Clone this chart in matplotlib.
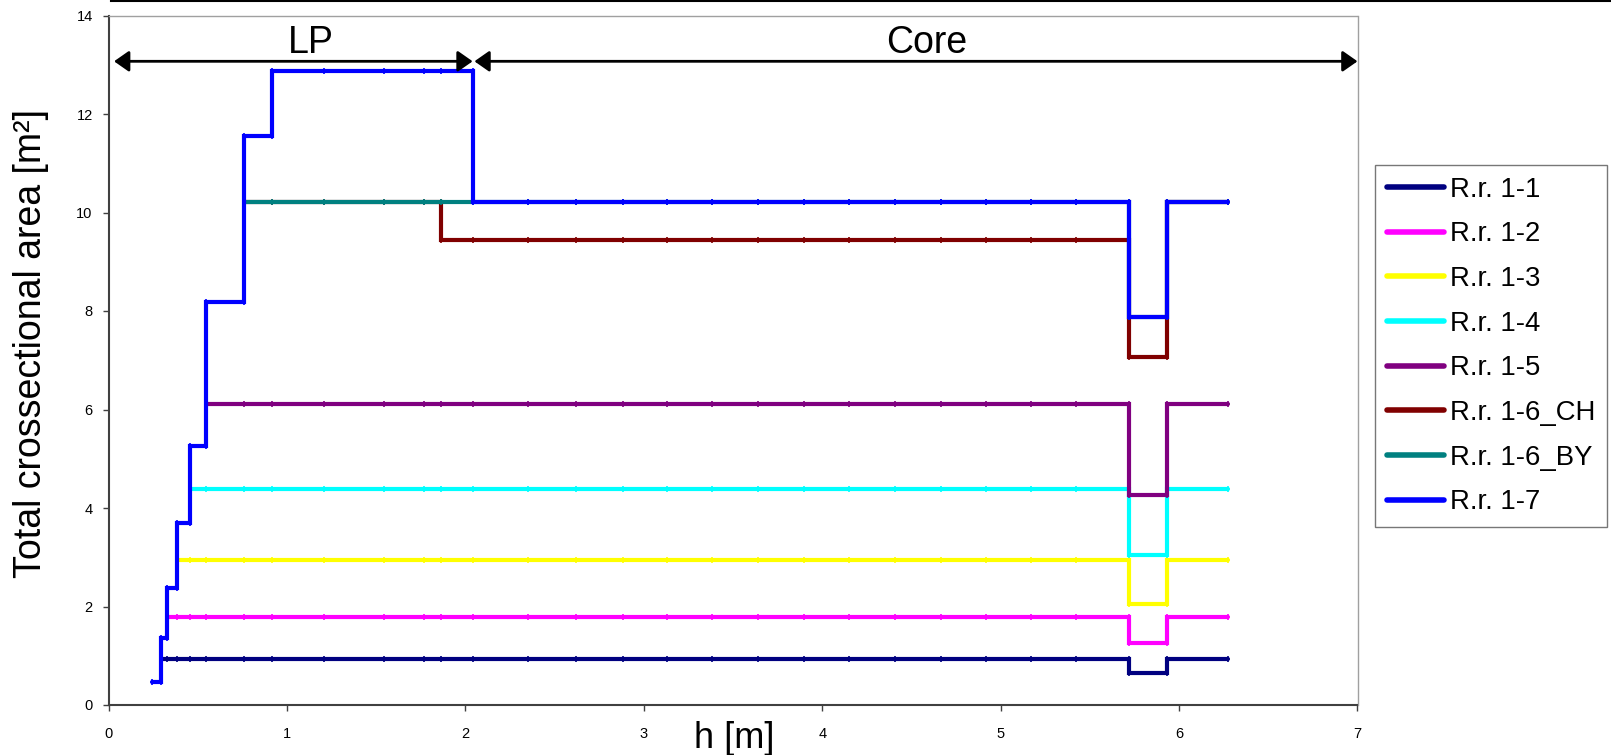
import matplotlib
matplotlib.use('Agg')
import matplotlib.pyplot as plt
from matplotlib.lines import Line2D

plt.rcParams['font.family'] = ['Liberation Sans', 'DejaVu Sans']

## measuring positions along h [m]
h_grid = [0.244, 0.293, 0.327, 0.385, 0.456, 0.545, 0.76, 0.913, 1.209, 1.543,
          1.767, 1.861, 2.04, 2.352, 2.618, 2.881, 3.128, 3.383, 3.64, 3.896,
          4.151, 4.408, 4.664, 4.92, 5.168, 5.424, 5.717, 5.93, 6.276]

## each run: h where the area changes, and the area on each interval
rr11_h = [0.293, 5.717, 5.93, 6.276]
rr11_a = [0.93, 0.64, 0.93]
rr12_h = [0.327, 5.717, 5.93, 6.276]
rr12_a = [1.79, 1.25, 1.79]
rr13_h = [0.385, 5.717, 5.93, 6.276]
rr13_a = [2.95, 2.06, 2.95]
rr14_h = [0.456, 5.717, 5.93, 6.276]
rr14_a = [4.38, 3.05, 4.38]
rr15_h = [0.545, 5.717, 5.93, 6.276]
rr15_a = [6.11, 4.26, 6.11]
rr16ch_h = [0.76, 1.861, 5.717, 5.93, 6.276]
rr16ch_a = [10.22, 9.44, 7.07, 10.22]
rr16by_h = [0.76, 5.717, 5.93, 6.276]
rr16by_a = [10.22, 7.87, 10.22]
rr17_h = [0.244, 0.293, 0.327, 0.385, 0.456, 0.545, 0.76, 0.913, 2.04, 5.717, 5.93, 6.276]
rr17_a = [0.46, 1.37, 2.37, 3.69, 5.26, 8.19, 11.56, 12.88, 10.22, 7.87, 10.22]

labels = ['R.r. 1-1', 'R.r. 1-2', 'R.r. 1-3', 'R.r. 1-4', 'R.r. 1-5',
          'R.r. 1-6_CH', 'R.r. 1-6_BY', 'R.r. 1-7']
colors = ['#000080', '#FF00FF', '#FFFF00', '#00FFFF', '#800080',
          '#800000', '#008080', '#0000FF']
runs = [(rr11_h, rr11_a), (rr12_h, rr12_a), (rr13_h, rr13_a), (rr14_h, rr14_a),
        (rr15_h, rr15_a), (rr16ch_h, rr16ch_a), (rr16by_h, rr16by_a), (rr17_h, rr17_a)]


def steps(hb, a):
    xs, ys = [hb[0]], [a[0]]
    for i in range(1, len(hb) - 1):
        xs += [hb[i], hb[i]]
        ys += [a[i - 1], a[i]]
    xs.append(hb[-1])
    ys.append(a[-1])
    return xs, ys


def marks(hb, a):
    mx, my = [], []
    for g in h_grid:
        if g < hb[0] - 1e-6 or g > hb[-1] + 1e-6:
            continue
        for i in range(len(a)):
            if hb[i] - 1e-6 <= g <= hb[i + 1] + 1e-6:
                mx.append(g)
                my.append(a[i])
    return mx, my


fig = plt.figure(figsize=(16.11, 7.55), dpi=100)
ax = fig.add_axes([108.7 / 1611, 50 / 755, 1248.8 / 1611, 689.5 / 755])

for (hb, a), lab, c in zip(runs, labels, colors):
    xs, ys = steps(hb, a)
    ax.plot(xs, ys, color=c, lw=3, label=lab, solid_capstyle='round', solid_joinstyle='miter')
    mx, my = marks(hb, a)
    ax.plot(mx, my, ls='none', marker='|', ms=5, mew=1.2, color=c)

## LP / Core arrows
arr = dict(arrowstyle='<|-|>,head_length=0.6,head_width=0.42', color='black', lw=2,
           shrinkA=0, shrinkB=0, mutation_scale=15)
ax.annotate('', xy=(2.04, 13.07), xytext=(0.03, 13.07), arrowprops=arr, annotation_clip=False)
ax.annotate('', xy=(7.0, 13.07), xytext=(2.05, 13.07), arrowprops=arr, annotation_clip=False)
ax.text(1.132, 13.23, 'LP', fontsize=27, ha='center', va='baseline')
ax.text(4.585, 13.23, 'Core', fontsize=27, ha='center', va='baseline')

ax.set_xlim(0, 7)
ax.set_ylim(0, 14)
ax.set_xticks(range(0, 8))
ax.set_yticks(range(0, 15, 2))
ax.tick_params(axis='both', direction='out', length=4.5, width=1, labelsize=10.5, color='#404040')
ax.tick_params(axis='x', pad=11)
ax.tick_params(axis='y', pad=7)
for s in ['left', 'bottom']:
    ax.spines[s].set_color('#404040')
    ax.spines[s].set_linewidth(1.5)
for s in ['top', 'right']:
    ax.spines[s].set_color('#a0a0a0')
    ax.spines[s].set_linewidth(1)

fig.text(734.6 / 1611, 1 - 748 / 755, 'h [m]', fontsize=26, ha='center', va='baseline')
fig.text(31 / 1611, 1 - 343 / 755, 'Total crossectional area [m²]', fontsize=27,
         rotation=90, ha='center', va='center')

## black line along the top of the chart
fig.add_artist(Line2D([111 / 1611, 1.0], [1 - 1 / 755, 1 - 1 / 755], color='black', lw=1.5,
                      transform=fig.transFigure))

leg = ax.legend(loc='upper left', bbox_to_anchor=(1375 / 1611, 1 - 165 / 755),
                bbox_transform=fig.transFigure, fontsize=19.8, frameon=True, fancybox=False,
                borderpad=0.42, labelspacing=0.68, handlelength=2.1, handletextpad=0.2,
                borderaxespad=0)
leg.get_frame().set_edgecolor('#555555')
leg.get_frame().set_linewidth(1)
for l in leg.get_lines():
    l.set_linewidth(4)
    l.set_solid_capstyle('round')

fig.savefig('out.png', dpi=100)
